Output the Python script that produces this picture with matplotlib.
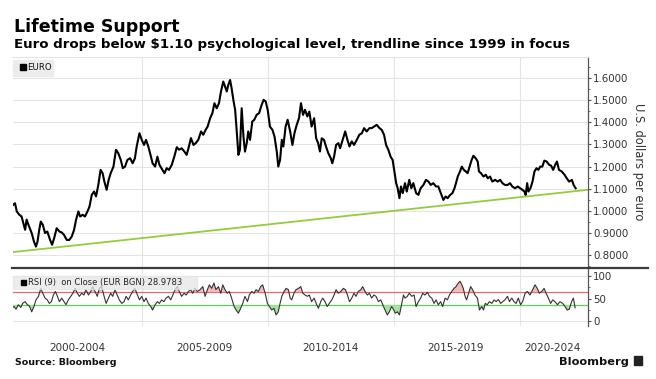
import matplotlib
matplotlib.use('Agg')
import matplotlib.pyplot as plt
from matplotlib.patches import Rectangle
from matplotlib.lines import Line2D
from matplotlib.ticker import MultipleLocator, FuncFormatter

plt.rcParams['font.family'] = ['DejaVu Sans']

# ---------------- data ----------------
euro_year = [
    1999.91, 1999.98, 2000.05, 2000.15, 2000.24, 2000.31, 2000.38, 2000.44, 2000.51, 2000.64,
    2000.73, 2000.81, 2000.87, 2000.94, 2001.00, 2001.08, 2001.17, 2001.26, 2001.37, 2001.45,
    2001.53, 2001.63, 2001.74, 2001.83, 2001.92, 2002.03, 2002.13, 2002.23, 2002.32, 2002.40,
    2002.49, 2002.56, 2002.66, 2002.75, 2002.85, 2002.93, 2003.02, 2003.11, 2003.19, 2003.28,
    2003.37, 2003.45, 2003.52, 2003.61, 2003.69, 2003.77, 2003.88, 2003.98, 2004.07, 2004.17,
    2004.25, 2004.34, 2004.43, 2004.54, 2004.64, 2004.73, 2004.80, 2004.91, 2005.00, 2005.09,
    2005.17, 2005.26, 2005.33, 2005.43, 2005.53, 2005.62, 2005.70,
    2005.82, 2005.90, 2005.99, 2006.08, 2006.19, 2006.29, 2006.39, 2006.48, 2006.58, 2006.69,
    2006.78, 2006.87, 2006.95, 2007.05, 2007.14, 2007.24, 2007.35, 2007.44, 2007.53, 2007.61,
    2007.71, 2007.80, 2007.88, 2007.97, 2008.06, 2008.14, 2008.23, 2008.30, 2008.37, 2008.43,
    2008.50, 2008.56, 2008.64, 2008.70, 2008.76, 2008.83, 2008.89, 2008.96, 2009.03, 2009.09,
    2009.16, 2009.22, 2009.29, 2009.38, 2009.46, 2009.55, 2009.65, 2009.75, 2009.83, 2009.91,
    2009.99, 2010.08, 2010.18, 2010.26, 2010.35, 2010.41, 2010.48, 2010.55, 2010.61, 2010.70,
    2010.78, 2010.88, 2010.97, 2011.05, 2011.14, 2011.23, 2011.31, 2011.39, 2011.47,
    2011.56, 2011.64, 2011.73, 2011.83, 2011.91, 2011.99, 2012.06, 2012.13, 2012.22, 2012.30,
    2012.39, 2012.49, 2012.55, 2012.62, 2012.70, 2012.79, 2012.86, 2012.96, 2013.06, 2013.15,
    2013.23, 2013.32, 2013.41, 2013.52, 2013.62, 2013.72, 2013.81, 2013.91, 2014.02, 2014.11,
    2014.20, 2014.31, 2014.42, 2014.51, 2014.60, 2014.68, 2014.77, 2014.86, 2014.94, 2015.01,
    2015.08, 2015.14, 2015.21, 2015.27, 2015.34, 2015.43, 2015.50, 2015.60, 2015.68, 2015.76,
    2015.87, 2015.96, 2016.05, 2016.16, 2016.26, 2016.36, 2016.45, 2016.55, 2016.66, 2016.75,
    2016.85, 2016.95, 2017.04, 2017.12, 2017.22,
    2017.31, 2017.39, 2017.45, 2017.52, 2017.61, 2017.68, 2017.76, 2017.84, 2017.91, 2017.99,
    2018.07, 2018.14, 2018.23, 2018.31, 2018.36, 2018.44, 2018.54, 2018.63, 2018.71, 2018.80,
    2018.89, 2019.00, 2019.10, 2019.20, 2019.29, 2019.39, 2019.50, 2019.59, 2019.68, 2019.79,
    2019.90, 2019.99, 2020.08, 2020.16, 2020.21, 2020.27, 2020.32, 2020.40, 2020.48, 2020.56,
    2020.64, 2020.71, 2020.79, 2020.87, 2020.95, 2021.04, 2021.14, 2021.22, 2021.30, 2021.38,
    2021.45, 2021.53, 2021.64, 2021.75, 2021.84, 2021.93, 2022.04, 2022.11, 2022.19,
]
euro_value = [
    1.027, 1.034, 0.997, 0.982, 0.974, 0.944, 0.914, 0.960, 0.937, 0.899,
    0.861, 0.838, 0.860, 0.914, 0.951, 0.937, 0.899, 0.906, 0.868, 0.846,
    0.876, 0.921, 0.906, 0.902, 0.891, 0.868, 0.868, 0.884, 0.914, 0.960,
    0.997, 0.974, 0.982, 0.974, 0.997, 1.019, 1.072, 1.087, 1.065, 1.117,
    1.185, 1.170, 1.132, 1.095, 1.140, 1.170, 1.200, 1.276, 1.261, 1.230,
    1.193, 1.200, 1.230, 1.238, 1.215, 1.238, 1.291, 1.351, 1.321, 1.298,
    1.321, 1.291, 1.261, 1.215, 1.200, 1.245, 1.208,
    1.185, 1.170, 1.193, 1.185, 1.208, 1.245, 1.288, 1.276, 1.283, 1.268,
    1.253, 1.291, 1.329, 1.298, 1.306, 1.321, 1.359, 1.344, 1.366, 1.381,
    1.419, 1.442, 1.487, 1.464, 1.487, 1.540, 1.585, 1.562, 1.540, 1.570,
    1.592, 1.555, 1.495, 1.457, 1.366, 1.253, 1.276, 1.464, 1.336, 1.268,
    1.306, 1.359, 1.321, 1.404, 1.412, 1.434, 1.442, 1.479, 1.502, 1.495,
    1.457, 1.381, 1.366, 1.336, 1.268, 1.200, 1.230, 1.321, 1.291, 1.381,
    1.412, 1.359, 1.298, 1.351, 1.389, 1.419, 1.487, 1.434, 1.457,
    1.427, 1.449, 1.381, 1.419, 1.328, 1.306, 1.268, 1.328, 1.321, 1.291,
    1.261, 1.238, 1.215, 1.245, 1.298, 1.306, 1.283, 1.321, 1.359, 1.321,
    1.291, 1.314, 1.298, 1.321, 1.344, 1.351, 1.374, 1.359, 1.374, 1.374,
    1.381, 1.389, 1.374, 1.366, 1.344, 1.298, 1.276, 1.245, 1.230, 1.178,
    1.125, 1.102, 1.057, 1.110, 1.080, 1.125, 1.087, 1.140, 1.102, 1.125,
    1.080, 1.072, 1.102, 1.117, 1.140, 1.132, 1.117, 1.125, 1.110, 1.110,
    1.080, 1.049, 1.065, 1.057, 1.072,
    1.080, 1.102, 1.125, 1.155, 1.178, 1.200, 1.185, 1.178, 1.170, 1.200,
    1.230, 1.249, 1.238, 1.223, 1.178, 1.170, 1.155, 1.163, 1.147, 1.155,
    1.132, 1.140, 1.132, 1.140, 1.125, 1.117, 1.117, 1.125, 1.110, 1.102,
    1.110, 1.102, 1.095, 1.087, 1.072, 1.125, 1.087, 1.102, 1.132, 1.178,
    1.193, 1.185, 1.200, 1.200, 1.227, 1.223, 1.208, 1.204, 1.185, 1.208,
    1.223, 1.185, 1.178, 1.163, 1.147, 1.132, 1.140, 1.117, 1.102,
]

trend_year = [1999.90, 2022.68]
trend_value = [0.813, 1.095]

rsi_year = [
    1999.85, 1999.94, 2000.02, 2000.11, 2000.21, 2000.28, 2000.38, 2000.47, 2000.55, 2000.64,
    2000.73, 2000.81, 2000.91, 2001.00, 2001.08, 2001.17, 2001.26, 2001.34, 2001.42, 2001.50,
    2001.58, 2001.66, 2001.74, 2001.83, 2001.92, 2002.00, 2002.09, 2002.19, 2002.27, 2002.36,
    2002.45, 2002.53, 2002.62, 2002.71, 2002.79, 2002.89, 2002.98, 2003.06, 2003.15, 2003.24,
    2003.32, 2003.41, 2003.51, 2003.59, 2003.68, 2003.77, 2003.85, 2003.94, 2004.03, 2004.11,
    2004.21, 2004.30, 2004.38, 2004.47, 2004.56, 2004.64, 2004.73, 2004.83, 2004.91, 2005.00,
    2005.09, 2005.17, 2005.26, 2005.36, 2005.43, 2005.53, 2005.62, 2005.70, 2005.79, 2005.88,
    2005.96, 2006.06, 2006.15, 2006.23, 2006.32, 2006.41, 2006.49, 2006.58, 2006.68, 2006.76,
    2006.85, 2006.94, 2007.02, 2007.11, 2007.20, 2007.31, 2007.42,
    2007.51, 2007.60, 2007.68, 2007.77, 2007.86, 2007.94, 2008.04, 2008.13, 2008.21, 2008.30,
    2008.39, 2008.47, 2008.56, 2008.66, 2008.74, 2008.83, 2008.92, 2009.00, 2009.09, 2009.19,
    2009.26, 2009.36, 2009.45, 2009.53, 2009.62, 2009.71, 2009.79, 2009.89, 2009.98, 2010.06,
    2010.15, 2010.24, 2010.32, 2010.41, 2010.48, 2010.55, 2010.64, 2010.72, 2010.81, 2010.88,
    2010.94, 2011.03, 2011.11, 2011.21, 2011.30, 2011.38, 2011.47, 2011.56, 2011.64, 2011.73,
    2011.83, 2011.91, 2012.00, 2012.09, 2012.17, 2012.26, 2012.35, 2012.43, 2012.53, 2012.62,
    2012.70, 2012.79, 2012.88, 2012.99, 2013.07, 2013.15, 2013.23, 2013.32, 2013.41, 2013.49,
    2013.58, 2013.68, 2013.75, 2013.85, 2013.94, 2014.02, 2014.11, 2014.20, 2014.28, 2014.38,
    2014.47, 2014.55, 2014.64, 2014.73, 2014.81, 2014.90, 2014.99,
    2015.04, 2015.13, 2015.21, 2015.30, 2015.37, 2015.43, 2015.52, 2015.60, 2015.70, 2015.79,
    2015.87, 2015.96, 2016.05, 2016.13, 2016.22, 2016.32, 2016.40, 2016.49, 2016.58, 2016.66,
    2016.75, 2016.84, 2016.92, 2017.02, 2017.11, 2017.19, 2017.28, 2017.37, 2017.45, 2017.54,
    2017.61, 2017.68, 2017.74, 2017.81, 2017.87, 2017.95, 2018.03, 2018.11, 2018.20, 2018.30,
    2018.38, 2018.47, 2018.54, 2018.61, 2018.69, 2018.77, 2018.87, 2018.96, 2019.04, 2019.13,
    2019.22, 2019.30, 2019.39, 2019.49, 2019.57, 2019.66, 2019.75, 2019.83, 2019.92, 2020.01,
    2020.09, 2020.19, 2020.28, 2020.38, 2020.49, 2020.58, 2020.67, 2020.75, 2020.85, 2020.94,
    2021.02, 2021.11, 2021.20, 2021.28, 2021.37, 2021.47, 2021.57, 2021.68, 2021.77, 2021.86,
    2021.94, 2022.03, 2022.10, 2022.17,
]
rsi_value = [
    28, 32, 26, 36, 30, 39, 43, 36, 33, 20,
    32, 47, 55, 73, 62, 51, 47, 39, 43, 58,
    66, 55, 43, 51, 43, 36, 47, 55, 62, 73,
    62, 55, 62, 58, 70, 58, 66, 77, 66, 55,
    73, 77, 55, 39, 51, 62, 55, 70, 58, 47,
    39, 43, 55, 47, 58, 66, 73, 58, 47, 55,
    43, 51, 39, 32, 24, 36, 43, 39, 47, 43,
    51, 55, 47, 58, 70, 77, 66, 55, 62, 58,
    66, 70, 62, 73, 66, 70, 77,
    55, 70, 81, 73, 85, 70, 77, 62, 81, 70,
    62, 66, 51, 32, 24, 17, 28, 39, 55, 43,
    58, 66, 62, 70, 66, 77, 81, 62, 39, 32,
    24, 28, 13, 20, 39, 55, 66, 73, 70, 51,
    47, 62, 70, 73, 77, 62, 58, 55, 58, 43,
    51, 39, 28, 43, 51, 43, 32, 39, 47, 58,
    70, 62, 66, 73, 70, 58, 43, 51, 62, 55,
    66, 70, 77, 66, 58, 62, 51, 58, 55, 43,
    47, 36, 24, 13, 20, 32, 24,
    17, 20, 13, 39, 58, 51, 55, 62, 55, 58,
    32, 43, 51, 62, 58, 64, 55, 51, 39, 47,
    36, 43, 32, 51, 47, 58, 66, 73, 77, 85,
    89, 81, 73, 55, 47, 62, 77, 70, 58, 51,
    24, 32, 24, 39, 36, 43, 39, 47, 43, 48,
    39, 43, 47, 55, 43, 51, 43, 39, 51, 36,
    43, 62, 66, 58, 70, 81, 73, 62, 66, 73,
    62, 51, 39, 47, 43, 36, 43, 39, 32, 24,
    26, 43, 51, 29,
]
rsi_upper = 65
rsi_lower = 35

period_labels = ['2000-2004', '2005-2009', '2010-2014', '2015-2019', '2020-2024']
period_centers = [2002.45, 2007.5, 2012.48, 2017.45, 2021.27]
grid_years = [2005, 2010, 2015, 2020]
price_ticks = [0.8, 0.9, 1.0, 1.1, 1.2, 1.3, 1.4, 1.5, 1.6]
rsi_ticks = [0, 50, 100]

# ---------------- layout helpers ----------------
W, H = 656, 379
def fx(px):
    return px / W
def fy(py):
    return 1 - py / H

fig = plt.figure(figsize=(W / 100, H / 100), dpi=100)
fig.patch.set_facecolor('white')

L, R = 13, 588
ax = fig.add_axes([fx(L), fy(268), fx(R) - fx(L), fy(57) - fy(268)])
ax2 = fig.add_axes([fx(L), fy(326), fx(R) - fx(L), fy(268) - fy(326)], sharex=ax)

XMIN, XMAX = 1999.90, 2022.68
tick_color = '#555555'
label_color = '#333333'

# ---------------- main panel ----------------
ax.set_xlim(XMIN, XMAX)
ax.set_ylim(0.741, 1.696)
for gy in price_ticks:
    ax.axhline(gy, color='#e4e4e4', lw=0.8, zorder=0)
for gx in grid_years:
    ax.axvline(gx, color='#e4e4e4', lw=0.8, zorder=0)
ax.plot(trend_year, trend_value, color='#95cc3a', lw=1.3, zorder=2)
ax.plot(euro_year, euro_value, color='black', lw=1.5, zorder=3)

ax.yaxis.tick_right()
ax.set_yticks(price_ticks)
ax.yaxis.set_major_formatter(FuncFormatter(lambda v, p: f'{v:.4f}'))
ax.yaxis.set_minor_locator(MultipleLocator(0.05))
ax.tick_params(axis='y', which='major', direction='out', length=2.5, width=0.8,
               color=tick_color, labelsize=7.4, labelcolor=label_color, pad=1.2)
ax.tick_params(axis='y', which='minor', direction='out', length=1.4, width=0.6, color=tick_color)
ax.tick_params(axis='x', bottom=False, labelbottom=False)
for s in ['left', 'bottom']:
    ax.spines[s].set_visible(False)
ax.spines['top'].set_color('#e4e4e4')
ax.spines['top'].set_linewidth(0.8)
ax.spines['right'].set_color(tick_color)
ax.spines['right'].set_linewidth(0.9)

# ---------------- RSI panel ----------------
ax2.set_ylim(-12, 119)
for gy in [0, 100]:
    ax2.axhline(gy, color='#e4e4e4', lw=0.8, zorder=0)
for gx in grid_years:
    ax2.axvline(gx, color='#e4e4e4', lw=0.8, zorder=0)
ax2.axhline(rsi_upper, color='#e36b6b', lw=0.9, zorder=1)
ax2.axhline(rsi_lower, color='#5ccf5c', lw=0.9, zorder=1)
ax2.fill_between(rsi_year, rsi_value, rsi_upper,
                 where=[v > rsi_upper for v in rsi_value], interpolate=True,
                 color='#f6b9b9', lw=0, zorder=1)
ax2.fill_between(rsi_year, rsi_value, rsi_lower,
                 where=[v < rsi_lower for v in rsi_value], interpolate=True,
                 color='#a6e3a0', lw=0, zorder=1)
ax2.plot(rsi_year, rsi_value, color='#333333', lw=0.8, zorder=3)

ax2.yaxis.tick_right()
ax2.set_yticks(rsi_ticks)
ax2.yaxis.set_minor_locator(MultipleLocator(25))
ax2.tick_params(axis='y', which='major', direction='out', length=2.5, width=0.8,
                color=tick_color, labelsize=7.4, labelcolor=label_color, pad=1.2)
ax2.tick_params(axis='y', which='minor', direction='out', length=1.4, width=0.6, color=tick_color)
ax2.set_xticks(period_centers)
ax2.set_xticklabels(period_labels)
ax2.tick_params(axis='x', length=0, labelsize=7.5, labelcolor=label_color, pad=12)
for s in ['left', 'bottom', 'top']:
    ax2.spines[s].set_visible(False)
ax2.spines['right'].set_color(tick_color)
ax2.spines['right'].set_linewidth(0.9)

# separator between panels
fig.add_artist(Line2D([fx(12), fx(648)], [fy(268.3), fy(268.3)], color='#3c3c3c', lw=1.6))

# ---------------- legends ----------------
fig.add_artist(Rectangle((fx(12.7), fy(76)), fx(53) - fx(12.7), fy(60) - fy(76),
                         transform=fig.transFigure, color='#ececec', zorder=5))
fig.add_artist(Rectangle((fx(20), fy(69.5)), fx(25.5) - fx(20), fy(64) - fy(69.5),
                         transform=fig.transFigure, color='black', zorder=6))
fig.text(fx(27.3), fy(67), 'EURO', fontsize=6.2, va='center', ha='left', color='#111111', zorder=7)

fig.add_artist(Rectangle((fx(12.5), fy(289)), fx(196.6) - fx(12.5), fy(275.5) - fy(289),
                         transform=fig.transFigure, color='#e6e6e6', alpha=0.75, zorder=5))
fig.add_artist(Rectangle((fx(20.7), fy(285)), fx(26) - fx(20.7), fy(279.7) - fy(285),
                         transform=fig.transFigure, color='black', zorder=6))
fig.text(fx(28.3), fy(282.4), 'RSI (9)  on Close (EUR BGN) 28.9783', fontsize=6.0,
         va='center', ha='left', color='#222222', zorder=7)

# ---------------- texts ----------------
fig.text(fx(14), fy(32.3), 'Lifetime Support', fontsize=12.5, fontweight='bold',
         va='baseline', ha='left', color='black')
fig.text(fx(14), fy(48.3),
         'Euro drops below $1.10 psychological level, trendline since 1999 in focus',
         fontsize=9.6, fontweight='bold', va='baseline', ha='left', color='black')
fig.text(fx(639), fy(161.7), 'U.S. dollars per euro', rotation=270, fontsize=8.3,
         ha='center', va='center', color=label_color)
fig.text(fx(15), fy(365), 'Source: Bloomberg', fontsize=6.8, fontweight='bold',
         va='baseline', ha='left', color='#111111')
fig.text(fx(629), fy(365), 'Bloomberg', fontsize=8.2, fontweight='bold',
         va='baseline', ha='right', color='#111111')
fig.add_artist(Rectangle((fx(634), fy(365)), fx(642) - fx(634), fy(356) - fy(365),
                         transform=fig.transFigure, color='#222222'))

fig.savefig('out.png', dpi=100, facecolor='white')
